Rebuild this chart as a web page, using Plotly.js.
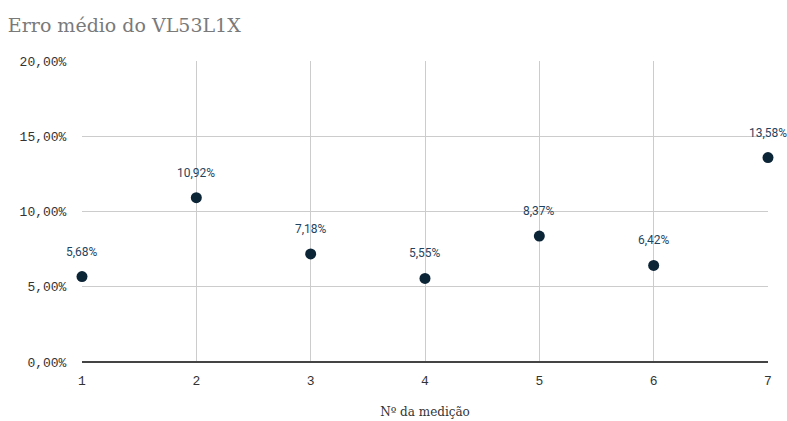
<!DOCTYPE html>
<html><head><meta charset="utf-8">
<script src="https://cdn.plot.ly/plotly-3.0.1.min.js"></script>
<style>html,body{margin:0;padding:0;background:#fff}#c{width:787px;height:421px}</style>
</head><body><div id="c"></div>
<script>
const medicoes = [1, 2, 3, 4, 5, 6, 7];
const erros = [0.0568, 0.1092, 0.0718, 0.0555, 0.0837, 0.0642, 0.1358];
const rotulos = ["5,68%", "10,92%", "7,18%", "5,55%", "8,37%", "6,42%", "13,58%"];
const yTicks = [0, 0.05, 0.10, 0.15, 0.20];

const anotacoes = medicoes.map((m, i) => ({
  x: m, y: erros[i], text: rotulos[i], showarrow: false, yshift: 25,
  font: {family: 'Roboto, sans-serif', size: 12, color: '#1f4461'}
}));

Plotly.newPlot('c', [{
  type: 'scatter', mode: 'markers',
  x: medicoes, y: erros,
  marker: {color: '#0b2436', size: 11},
  cliponaxis: false, hoverinfo: 'none'
}], {
  width: 787, height: 421,
  margin: {l: 82, r: 19, t: 61, b: 59},
  separators: ',.',
  paper_bgcolor: '#fff', plot_bgcolor: '#fff',
  showlegend: false,
  annotations: anotacoes,
  title: {text: 'Erro médio do VL53L1X', x: 0.01, xanchor: 'left', y: 0.94, yanchor: 'middle',
    font: {family: 'DejaVu Serif, Georgia, serif', size: 19, color: '#7a7a7a'}},
  xaxis: {range: [1, 7], tickvals: medicoes, showgrid: true, gridcolor: '#cccccc', zeroline: false,
    showline: false, ticks: 'outside', ticklen: 6, tickcolor: 'rgba(0,0,0,0)',
    tickfont: {family: 'Liberation Mono, monospace', size: 13, color: '#333'},
    title: {text: 'Nº da medição', font: {family: 'DejaVu Serif, serif', size: 12, color: '#333'}, standoff: 20}},
  yaxis: {range: [0, 0.20], tickvals: yTicks, tickformat: '.2%', showgrid: true, gridcolor: '#cccccc',
    zeroline: true, zerolinecolor: '#444', zerolinewidth: 2, ticks: 'outside', ticklen: 12, tickcolor: 'rgba(0,0,0,0)',
    tickfont: {family: 'Liberation Mono, monospace', size: 13, color: '#333'}}
}, {displayModeBar: false, staticPlot: true});
</script></body></html>
